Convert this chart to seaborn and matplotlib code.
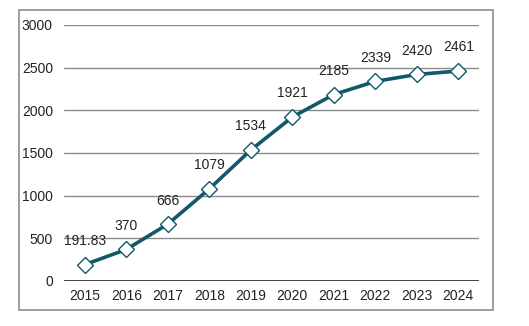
import matplotlib
matplotlib.use("Agg")
import matplotlib.pyplot as plt
import seaborn as sns
import pandas as pd
from matplotlib.patches import Rectangle

years = ["2015", "2016", "2017", "2018", "2019", "2020", "2021", "2022", "2023", "2024"]
values = [191.83, 370, 666, 1079, 1534, 1921, 2185, 2339, 2420, 2461]
labels = ["191.83", "370", "666", "1079", "1534", "1921", "2185", "2339", "2420", "2461"]
yticks = [0, 500, 1000, 1500, 2000, 2500, 3000]

sns.set_theme(style="white")
plt.rcParams['font.family'] = ['Liberation Sans', 'DejaVu Sans']

df = pd.DataFrame({"year": years, "value": values, "pos": range(len(years))})

W, H = 529, 326
fig = plt.figure(figsize=(W / 100, H / 100), dpi=100)
ax = fig.add_axes([64 / W, 1 - 281 / H, (479 - 64) / W, (281 - 25) / H])

line_color = "#12586b"
sns.lineplot(data=df, x="pos", y="value", ax=ax, color=line_color, linewidth=2.6,
             marker="D", markersize=8.5, markerfacecolor="white",
             markeredgecolor=line_color, markeredgewidth=1.0)

fs = 10
ax.set_xlim(-0.5, len(years) - 0.5)
ax.set_ylim(0, 3000)
ax.set_yticks(yticks)
ax.set_yticklabels([str(t) for t in yticks], fontsize=fs, color="#222222")
ax.set_xticks(range(len(years)))
ax.set_xticklabels(years, fontsize=fs, color="#222222")
ax.set_xlabel("")
ax.set_ylabel("")
for t in yticks[1:]:
    ax.axhline(t, color="#8a8a8a", linewidth=1.0, zorder=0)
ax.axhline(0, color="#222222", linewidth=1.2, zorder=1)
for s in ax.spines.values():
    s.set_visible(False)
ax.tick_params(axis="x", length=0, pad=6)
ax.tick_params(axis="y", length=0, pad=8)

for i, (v, lab) in enumerate(zip(values, labels)):
    ax.annotate(lab, (i, v), xytext=(0, 12), textcoords="offset points",
                ha="center", va="bottom", fontsize=fs, color="#222222")

fig.patches.append(Rectangle((19 / W, 1 - 310 / H), (493 - 19) / W, (310 - 10) / H,
                             transform=fig.transFigure, fill=False,
                             edgecolor="#8c8c8c", linewidth=1.2))

fig.savefig("out.png", dpi=100)
